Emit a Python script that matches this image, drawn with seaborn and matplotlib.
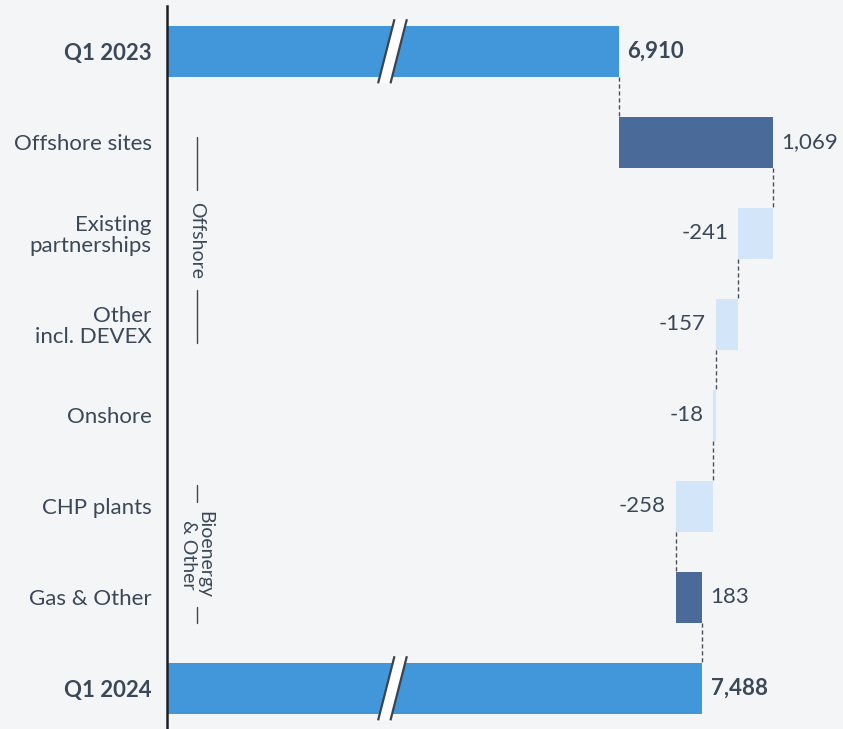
import numpy as np
import pandas as pd
import matplotlib
matplotlib.use("Agg")
import matplotlib.pyplot as plt
from matplotlib.patches import Polygon
import seaborn as sns

# EBITDA bridge, DKKm
categories = ["Q1 2023", "Offshore sites", "Existing\npartnerships", "Other\nincl. DEVEX",
              "Onshore", "CHP plants", "Gas & Other", "Q1 2024"]
values = [6910, 1069, -241, -157, -18, -258, 183, 7488]
value_labels = ["6,910", "1,069", "-241", "-157", "-18", "-258", "183", "7,488"]
is_total = [True, False, False, False, False, False, False, True]

group_names = ["Offshore", "Bioenergy\n& Other"]

BG = "#f4f5f7"
TEXT = "#3b4858"
C_TOTAL = "#4197d9"
C_POS = "#4a6b99"
C_NEG = "#d3e6f9"

sns.set_theme(style="white")
plt.rcParams["font.family"] = ["Lato", "DejaVu Sans"]

# waterfall geometry
starts, ends = [], []
running = 0.0
for v, tot in zip(values, is_total):
    if tot:
        starts.append(0.0)
        ends.append(float(v))
        running = float(v)
    else:
        starts.append(running)
        running += v
        ends.append(running)

colors = [C_TOTAL if t else (C_POS if v > 0 else C_NEG) for v, t in zip(values, is_total)]
df = pd.DataFrame({"category": categories, "end": ends})

fig = plt.figure(figsize=(8.43, 7.29), dpi=100, facecolor=BG)
ax = fig.add_axes([167 / 843, 0, 676 / 843, 723 / 729])
ax.set_facecolor(BG)

sns.barplot(data=df, x="end", y="category", hue="category", palette=colors,
            orient="h", width=0.56, dodge=False, legend=False, ax=ax, saturation=1)

# turn the plain bars into floating waterfall steps
for i, cont in enumerate(ax.containers):
    for p in cont.patches:
        lo, hi = min(starts[i], ends[i]), max(starts[i], ends[i])
        p.set_x(lo)
        p.set_width(hi - lo)
        p.set_linewidth(0)

ax.set_xlim(3771, 8466)
ax.set_ylim(7.45, -0.495)
half = 0.28

# dashed connectors between consecutive steps
for i in range(len(values) - 1):
    ax.plot([ends[i], ends[i]], [i + half, i + 1 - half], color="#4a4f57",
            lw=1.0, ls=(0, (3, 2)), zorder=1)

# value labels
for i, (v, tot) in enumerate(zip(values, is_total)):
    if tot or v > 0:
        x, dx, ha = max(starts[i], ends[i]), 6, "left"
    else:
        x, dx, ha = min(starts[i], ends[i]), -7, "right"
    ax.annotate(value_labels[i], (x, i), xytext=(dx, 0), textcoords="offset points",
                ha=ha, va="center", fontsize=16, color=TEXT,
                fontweight="bold" if tot else "normal")

# axis break marks on the total bars
BREAK_AT = 5337
off, hw = 57, 43
for i, tot in enumerate(is_total):
    if not tot:
        continue
    yb, yt = i + 0.355, i - 0.35
    poly = Polygon([(BREAK_AT - off - hw, yb), (BREAK_AT + off - hw, yt),
                    (BREAK_AT + off + hw, yt), (BREAK_AT - off + hw, yb)],
                   closed=True, facecolor="white", edgecolor="none", zorder=3)
    ax.add_patch(poly)
    for s in (-hw, hw):
        ax.plot([BREAK_AT - off + s, BREAK_AT + off + s], [yb, yt],
                color="#3a4350", lw=1.6, zorder=4, solid_capstyle="butt")

# group brackets
trans = ax.get_yaxis_transform()
gx = 0.0444
bracket_segments = [(0.945, 1.527), (2.626, 3.21), (4.77, 4.96), (6.11, 6.29)]
for a, b in bracket_segments:
    ax.plot([gx, gx], [a, b], transform=trans, color=TEXT, lw=1.0, clip_on=False)
ax.text(gx, 2.08, group_names[0], transform=trans, rotation=-90, ha="center",
        va="center", fontsize=14, color=TEXT)
ax.text(gx, 5.53, group_names[1], transform=trans, rotation=-90, ha="center",
        va="center", fontsize=14, color=TEXT, linespacing=0.95)

# axes styling
ax.set_xlabel("")
ax.set_ylabel("")
ax.set_xticks([])
ax.tick_params(axis="y", length=0, pad=11, labelsize=16, labelcolor=TEXT)
for lbl, tot in zip(ax.get_yticklabels(), is_total):
    lbl.set_fontweight("bold" if tot else "normal")
    lbl.set_linespacing(1.05)
for side in ("top", "right", "bottom"):
    ax.spines[side].set_visible(False)
ax.spines["left"].set_color("#1c1f24")
ax.spines["left"].set_linewidth(1.8)

fig.savefig("out.png", dpi=100, facecolor=BG)
